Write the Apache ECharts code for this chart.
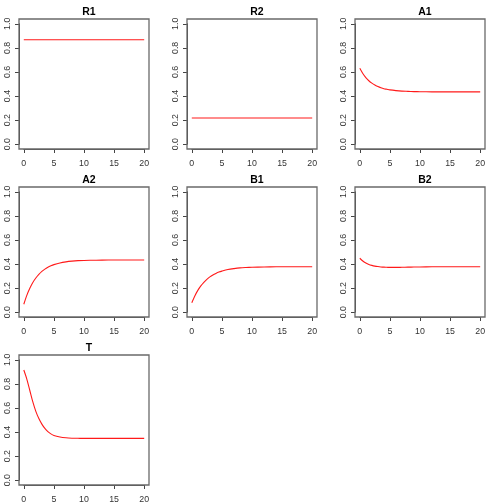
<!DOCTYPE html>
<html><head><meta charset="utf-8">
<script src="https://cdn.jsdelivr.net/npm/echarts@6/dist/echarts.min.js"></script>
<style>html,body{margin:0;padding:0;background:#fff}#c{width:504px;height:504px}</style>
</head><body><div id="c"></div>
<script>
const panelTitles = ['R1', 'R2', 'A1', 'A2', 'B1', 'B2', 'T'];
const times = [0, 0.5, 1, 1.5, 2, 2.5, 3, 3.5, 4, 4.5, 5, 6, 7, 8, 9, 10, 12, 14, 16, 18, 20];
const r1 = [0.868,0.868,0.868,0.868,0.868,0.868,0.868,0.868,0.868,0.868,0.868,0.868,0.868,0.868,0.868,0.868,0.868,0.868,0.868,0.868,0.868];
const r2 = [0.218,0.218,0.218,0.218,0.218,0.218,0.218,0.218,0.218,0.218,0.218,0.218,0.218,0.218,0.218,0.218,0.218,0.218,0.218,0.218,0.218];
const a1 = [0.630,0.587,0.553,0.527,0.507,0.491,0.479,0.469,0.461,0.456,0.451,0.445,0.441,0.439,0.437,0.436,0.435,0.435,0.435,0.435,0.435];
const a2 = [0.066,0.140,0.199,0.247,0.284,0.314,0.339,0.358,0.373,0.385,0.395,0.409,0.418,0.424,0.428,0.430,0.432,0.433,0.434,0.434,0.434];
const b1 = [0.078,0.135,0.181,0.218,0.248,0.273,0.293,0.309,0.322,0.333,0.341,0.354,0.362,0.368,0.371,0.373,0.376,0.377,0.378,0.378,0.378];
const b2 = [0.448,0.425,0.409,0.397,0.389,0.383,0.379,0.376,0.374,0.373,0.372,0.372,0.373,0.374,0.375,0.376,0.377,0.377,0.377,0.377,0.377];
const tSeries = [0.915,0.840,0.745,0.650,0.572,0.512,0.466,0.430,0.403,0.385,0.372,0.359,0.352,0.349,0.348,0.347,0.347,0.347,0.347,0.347,0.347];
const xTicks = [0, 5, 10, 15, 20];
const yTicks = [0, 0.2, 0.4, 0.6, 0.8, 1.0];
const seriesData = [r1, r2, a1, a2, b1, b2, tSeries];

const chart = echarts.init(document.getElementById('c'), null, {renderer: 'canvas'});
const FONT = 'Liberation Sans, Arial, Helvetica, sans-serif';
const CELL = 168, BOX0 = 19, BOX = 130, PAD = 4.8, INNER = BOX - 2 * PAD;
const grids = [], xAxes = [], yAxes = [], series = [], titles = [], graphics = [];
panelTitles.forEach((name, i) => {
  const col = i % 3, row = Math.floor(i / 3);
  const bx = col * CELL + BOX0, by = row * CELL + BOX0;
  grids.push({left: bx + PAD, top: by + PAD, width: INNER, height: INNER, containLabel: false});
  xAxes.push({
    type: 'value', gridIndex: i, min: xTicks[0], max: xTicks[xTicks.length - 1], interval: 5,
    position: 'bottom', offset: PAD, splitLine: {show: false},
    axisLine: {show: true, onZero: false, lineStyle: {color: '#444', width: 1}},
    axisTick: {show: true, length: 4, lineStyle: {color: '#444'}},
    axisLabel: {fontSize: 8.8, color: '#333', fontFamily: FONT, margin: 10}
  });
  yAxes.push({
    type: 'value', gridIndex: i, min: yTicks[0], max: yTicks[yTicks.length - 1], interval: 0.2,
    position: 'left', offset: PAD, splitLine: {show: false},
    axisLine: {show: true, onZero: false, lineStyle: {color: '#444', width: 1}},
    axisTick: {show: true, length: 4, lineStyle: {color: '#444'}},
    axisLabel: {fontSize: 8.8, color: '#333', fontFamily: FONT, margin: 7, rotate: 90,
      formatter: v => v.toFixed(1)}
  });
  series.push({
    type: 'line', xAxisIndex: i, yAxisIndex: i, showSymbol: false, smooth: 0.3,
    data: times.map((t, k) => [t, seriesData[i][k]]),
    lineStyle: {color: '#ff1a1a', width: 1.1}, animation: false
  });
  titles.push({
    text: name, left: bx + BOX / 2, top: row * CELL + 2, textAlign: 'center',
    textStyle: {fontSize: 10.5, fontWeight: 'bold', color: '#000', fontFamily: FONT}
  });
  graphics.push({
    type: 'rect', shape: {x: bx, y: by, width: BOX, height: BOX},
    style: {fill: null, stroke: '#6a6a6a', lineWidth: 1.3}, silent: true, z: 10
  });
});
chart.setOption({
  animation: false,
  backgroundColor: '#fff',
  title: titles, grid: grids, xAxis: xAxes, yAxis: yAxes, series: series, graphic: graphics
});
</script></body></html>
